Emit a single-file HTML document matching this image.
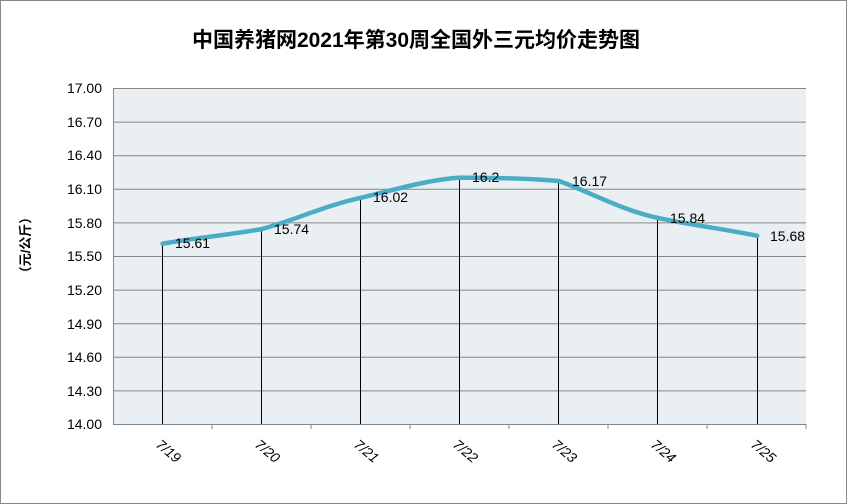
<!DOCTYPE html>
<html><head><meta charset="utf-8"><style>body{margin:0;background:#fff}svg{display:block}</style></head><body>
<svg width="847" height="504" xmlns="http://www.w3.org/2000/svg" font-family="Liberation Sans, Noto Sans CJK SC, sans-serif">
<rect x="0.5" y="0.5" width="846" height="503" fill="#fff" stroke="#888"/>
<text x="416" y="47" text-anchor="middle" font-size="21" font-weight="bold" fill="#000">中国养猪网2021年第30周全国外三元均价走势图</text>
<rect x="113" y="88" width="693" height="336" fill="#e9eff2"/>
<g stroke="#868686" stroke-width="1">
<line x1="113" y1="88.5" x2="806" y2="88.5"/><line x1="113" y1="122.1" x2="806" y2="122.1"/>
<line x1="113" y1="155.7" x2="806" y2="155.7"/><line x1="113" y1="189.3" x2="806" y2="189.3"/>
<line x1="113" y1="222.9" x2="806" y2="222.9"/><line x1="113" y1="256.5" x2="806" y2="256.5"/>
<line x1="113" y1="290.1" x2="806" y2="290.1"/><line x1="113" y1="323.7" x2="806" y2="323.7"/>
<line x1="113" y1="357.3" x2="806" y2="357.3"/><line x1="113" y1="390.9" x2="806" y2="390.9"/>
<line x1="113" y1="424.5" x2="806" y2="424.5"/><line x1="113.5" y1="88" x2="113.5" y2="424"/>
<line x1="212" y1="424" x2="212" y2="429"/><line x1="311" y1="424" x2="311" y2="429"/><line x1="410" y1="424" x2="410" y2="429"/><line x1="509" y1="424" x2="509" y2="429"/><line x1="608" y1="424" x2="608" y2="429"/><line x1="707" y1="424" x2="707" y2="429"/><line x1="806" y1="424" x2="806" y2="429"/>
</g>
<g stroke="#000" stroke-width="1">
<line x1="162.5" y1="243.7" x2="162.5" y2="424"/><line x1="261.5" y1="229.1" x2="261.5" y2="424"/>
<line x1="360.5" y1="197.8" x2="360.5" y2="424"/><line x1="459.5" y1="177.6" x2="459.5" y2="424"/>
<line x1="558.5" y1="181" x2="558.5" y2="424"/><line x1="657.5" y1="217.9" x2="657.5" y2="424"/>
<line x1="757.5" y1="235.8" x2="757.5" y2="424"/>
</g>
<path d="M162.6,243.7 C195,238 228,235 261.7,229.1 C295,220 327,205 360.8,197.8 C394,190 426,180 459.9,177.6 C493,178 526,178 559,181 C592,193 624,211 658.1,217.9 C691,225 724,229 757.2,235.8" fill="none" stroke="#4bacc6" stroke-width="4.5" stroke-linecap="round"/>
<g font-size="14" fill="#000">
<text x="175" y="248">15.61</text><text x="274" y="234">15.74</text><text x="373" y="202">16.02</text>
<text x="472" y="182">16.2</text><text x="572" y="186">16.17</text><text x="670" y="223">15.84</text><text x="770" y="241">15.68</text>
</g>
<g font-size="14" fill="#000" text-anchor="end">
<text x="102" y="93">17.00</text><text x="102" y="127">16.70</text><text x="102" y="160">16.40</text>
<text x="102" y="194">16.10</text><text x="102" y="228">15.80</text><text x="102" y="261">15.50</text>
<text x="102" y="295">15.20</text><text x="102" y="329">14.90</text><text x="102" y="362">14.60</text>
<text x="102" y="396">14.30</text><text x="102" y="429">14.00</text>
</g>
<text transform="translate(30,245) rotate(-90)" text-anchor="middle" font-size="13" font-weight="bold">（元/公斤）</text>
<g font-size="14" font-style="italic" fill="#000">
<text transform="translate(155,446) rotate(40)">7/19</text><text transform="translate(254,446) rotate(40)">7/20</text>
<text transform="translate(353,446) rotate(40)">7/21</text><text transform="translate(452,446) rotate(40)">7/22</text>
<text transform="translate(551,446) rotate(40)">7/23</text><text transform="translate(650,446) rotate(40)">7/24</text>
<text transform="translate(750,446) rotate(40)">7/25</text>
</g>
</svg>
</body></html>
